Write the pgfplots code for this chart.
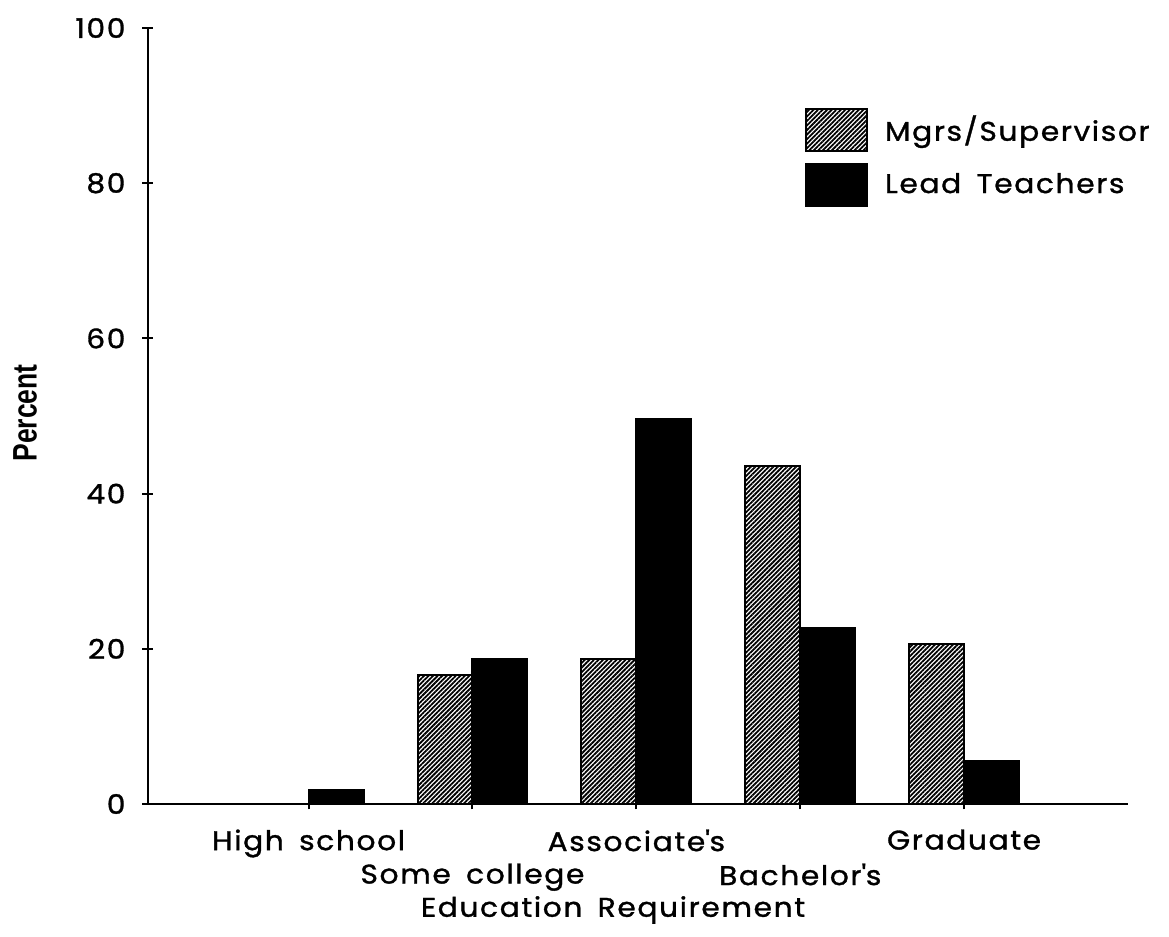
\documentclass[border=0pt]{standalone}
\usepackage{fontspec}
\setmainfont{Poppins}[FakeStretch=1.1, LetterSpace=6, WordSpace=1.6, FakeBold=1.2]
\newfontfamily\pfont{Liberation Sans}[FakeStretch=0.78]
\usepackage{pgfplots}
\pgfplotsset{compat=1.18}
\usetikzlibrary{patterns.meta}
\begin{document}
\begin{tikzpicture}[font=\fontsize{13.5}{16}\selectfont]
\useasboundingbox (-74pt,-66.5pt) rectangle (510.5pt,402pt);
\begin{axis}[
  at={(0,0)}, anchor=south west,
  scale only axis, width=490pt, height=388pt,
  xmin=-0.98, xmax=5, ymin=0, ymax=100,
  axis x line=bottom, axis y line=left,
  axis line style={-, line width=1.1pt},
  ytick={0,20,40,60,80,100},
  xtick={0,2,4},
  xticklabels={High school, Associate\textquotesingle s, Graduate},
  extra x ticks={1,3},
  extra x tick labels={Some college, Bachelor\textquotesingle s},
  extra x tick style={xticklabel style={yshift=-17pt}},
  tick align=center,
  major tick length=5.5pt,
  tick style={line width=1pt, black},
  /pgf/number format/assume math mode=true,
  yticklabel style={xshift=-5pt},
  xticklabel style={yshift=-6.5pt},
  xlabel={Education Requirement},
  xlabel style={at={(axis description cs:0.4745,-0.1366)}, anchor=center},
  ylabel={\pfont\bfseries\fontsize{17}{20}\selectfont Percent},
  ylabel style={at={(axis description cs:-0.1255,0.504)}, anchor=center},
  legend style={draw=none, fill=none, at={(axis description cs:0.67,0.898)}, anchor=north west, row sep=5.5pt, legend cell align=left, inner sep=0pt},
  legend image code/.code={\draw[#1] (0pt,-10.5pt) rectangle (30.5pt,10.5pt); \path (37pt,0pt);},
]
\addplot[draw=black, line width=1pt, pattern={Lines[angle=45,distance=1.6pt,line width=0.9pt]}, pattern color=black, ybar, bar width=0.335, bar shift=-0.1675]
  coordinates {(0,0) (1,16.6) (2,18.7) (3,43.6) (4,20.6)};
\addlegendentry{Mgrs/Supervisor}
\addplot[draw=black, fill=black, line width=1pt, ybar, bar width=0.335, bar shift=0.1675]
  coordinates {(0,1.8) (1,18.7) (2,49.6) (3,22.7) (4,5.5)};
\addlegendentry{Lead Teachers}
\end{axis}
\end{tikzpicture}
\end{document}
